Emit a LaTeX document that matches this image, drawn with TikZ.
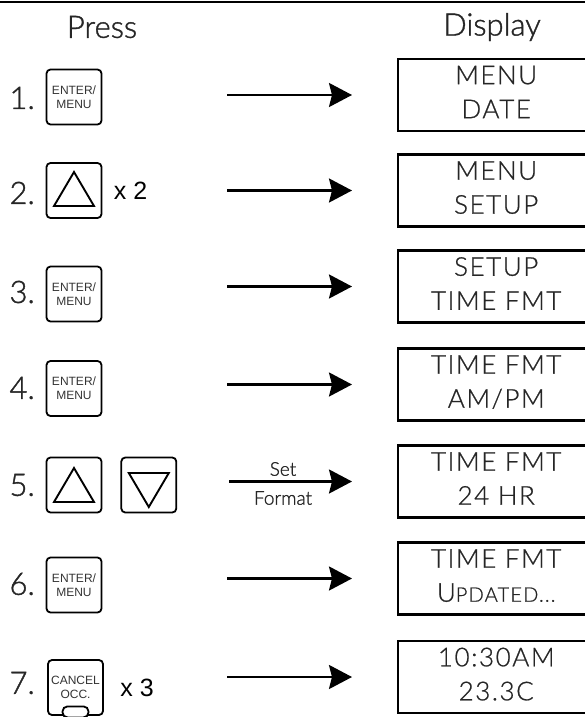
\documentclass[tikz,border=0pt]{standalone}
\usepackage{fontspec}
\usetikzlibrary{arrows.meta, positioning, calc}
\newfontfamily\headfont[FakeBold=1.2]{Lato Light}
\newfontfamily\keyfont{Liberation Sans}
\newfontfamily\lcdfont[LetterSpace=6, FakeBold=0.8]{Lato Light}
\tikzset{
  key/.style={rectangle, draw, line width=1.8pt, rounded corners=4pt,
    minimum width=55pt, minimum height=55pt, inner sep=0pt, align=center,
    text=black!80, font=\keyfont\fontsize{12}{14}\selectfont},
  lcd/.style={rectangle, draw, line width=2.4pt, minimum width=196pt,
    minimum height=72pt, anchor=west, align=center, text=black!85,
    font=\lcdfont\fontsize{26}{34}\selectfont,
    execute at end node={\rule[-6pt]{0pt}{6pt}}},
  stepnum/.style={anchor=west, text=black!85, font=\headfont\fontsize{31}{31}\selectfont},
  times/.style={font=\keyfont\fontsize{25}{25}\selectfont},
  flow/.style={-{Stealth[length=23pt, width=24pt, inset=3pt]}, line width=2.4pt},
  tri/.style={line width=1.9pt, line join=miter}
}

\begin{document}
\begin{tikzpicture}[x=1pt, y=-1pt]
  \useasboundingbox (0,0) rectangle (585,717);
  % Header
  \draw[line width=2pt] (0,2) -- (585,2);
  \node[text=black!85, font=\headfont\fontsize{31}{31}\selectfont] (press) at (102,27) {Press};
  \node[text=black!85, font=\headfont\fontsize{31}{31}\selectfont] (display) at (492,27) {Display};

  % Displays
  \node[lcd] (d1) at (397,95) {MENU\\DATE};
  \node[lcd] (d2) at (397,190.5) {MENU\\SETUP};
  \node[lcd] (d3) at (397,286.5) {SETUP\\TIME FMT};
  \node[lcd] (d4) at (397,384.5) {TIME FMT\\AM/PM};
  \node[lcd] (d5) at (397,481.5) {TIME FMT\\24 HR};
  \node[lcd] (d6) at (397,578.5) {TIME FMT\\U{\fontsize{20}{20}\selectfont PDATED...}};
  \node[lcd] (d7) at (397,677) {10:30AM\\23.3C};

  % Step numbers
  \node[stepnum] (n1) at (6,98) {1.};
  \node[stepnum] (n2) at (6,193) {2.};
  \node[stepnum] (n3) at (6,292) {3.};
  \node[stepnum] (n4) at (6,388) {4.};
  \node[stepnum] (n5) at (6,485) {5.};
  \node[stepnum] (n6) at (6,584) {6.};
  \node[stepnum] (n7) at (6,683) {7.};

  % Keys
  \node[key] (k1) at (74,97) {ENTER/\\MENU};
  \node[key] (k2) at (74,190.5) {};
  \node[key] (k3) at (74,294) {ENTER/\\MENU};
  \node[key] (k4) at (74,388.5) {ENTER/\\MENU};
  \node[key] (k5a) at (74,485) {};
  \node[key, right=18pt of k5a] (k5b) {};
  \node[key] (k6) at (74,585) {ENTER/\\MENU};
  \node[key] (k7) at (75.5,687.5) {CANCEL\\OCC.};
  \node[draw, fill=white, line width=1.8pt, rounded corners=5pt,
    minimum width=26pt, minimum height=11pt, inner sep=0pt] (tab) at ([yshift=4pt]k7.south) {};

  % Arrow glyphs on keys
  \draw[tri] ($(k2.center)+(-20,15.5)$) -- ($(k2.center)+(0,-18.5)$) -- ($(k2.center)+(20,15.5)$) -- cycle;
  \draw[tri] ($(k5a.center)+(-20,17)$) -- ($(k5a.center)+(0,-17)$) -- ($(k5a.center)+(20,17)$) -- cycle;
  \draw[tri] ($(k5b.center)+(-20,-12)$) -- ($(k5b.center)+(0,22)$) -- ($(k5b.center)+(20,-12)$) -- cycle;

  % Repeat counts
  \node[times, right=8pt of k2] (r2) {x 2};
  \node[times, right=13pt of k7] (r7) {x 3};

  % Connectors
  \foreach \i in {1,2,3,4,6,7} {
    \coordinate (a\i) at (227,0 |- d\i.west);
    \draw[flow] (a\i) -- ([xshift=-45pt]d\i.west);
  }
  \coordinate (a5) at (229,0 |- d5.west);
  \draw[flow] (a5) -- ([xshift=-45pt]d5.west);
  \node[text=black!85, font=\headfont\fontsize{19}{19}\selectfont] (setlbl) at (283,469) {Set};
  \node[text=black!85, font=\headfont\fontsize{19}{19}\selectfont] (fmtlbl) at (283,498) {Format};
\end{tikzpicture}
\end{document}
